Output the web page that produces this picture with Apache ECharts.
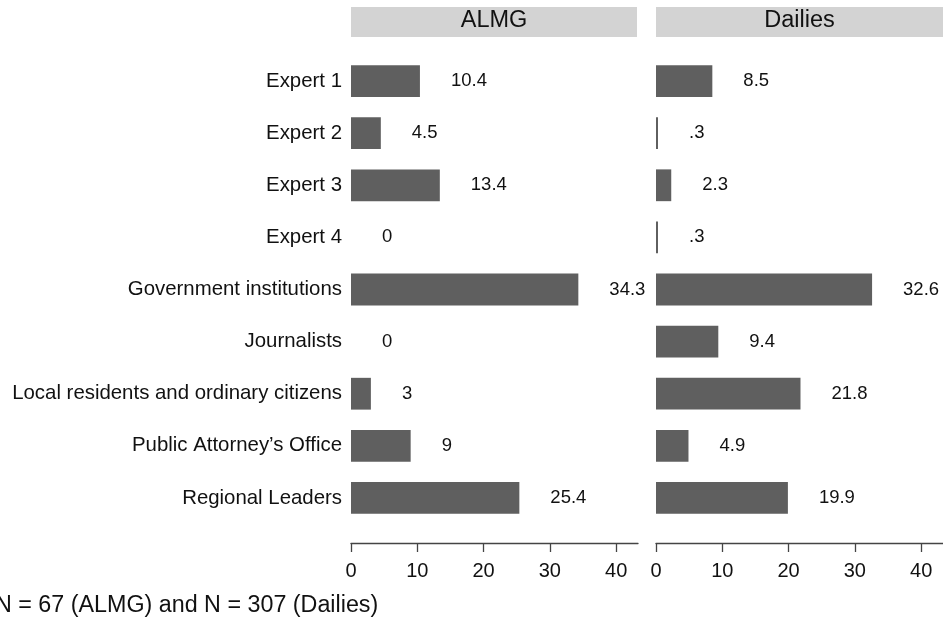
<!DOCTYPE html>
<html>
<head>
<meta charset="utf-8">
<script src="https://cdn.jsdelivr.net/npm/echarts@6/dist/echarts.min.js"></script>
<style>
html,body{margin:0;padding:0;background:#fff;}
#chart{width:943px;height:625px;}
</style>
</head>
<body>
<div id="chart"></div>
<script>
const categories = ["Expert 1","Expert 2","Expert 3","Expert 4","Government institutions","Journalists","Local residents and ordinary citizens","Public Attorney\u2019s Office","Regional Leaders"];
const almgValues = [10.4, 4.5, 13.4, 0, 34.3, 0, 3, 9, 25.4];
const dailiesValues = [8.5, 0.3, 2.3, 0.3, 32.6, 9.4, 21.8, 4.9, 19.9];
const tickValues = [0, 10, 20, 30, 40];
const panelTitles = ["ALMG", "Dailies"];
const noteText = "N = 67 (ALMG) and N = 307 (Dailies)";

const FONT = "'Liberation Sans', Arial, sans-serif";
const TEXT = '#111111';
const AXIS = '#444444';
const BAR = '#5f5f5f';
const HEAD = '#d3d3d3';

function fmt(v){
  if (v > 0 && v < 1) return String(v).replace(/^0/, '');
  return String(v);
}

const gridTop = 55, gridH = 469, gridW = 287;
const lefts = [351, 656];

function xAxisFor(i){
  return {
    type: 'value', gridIndex: i, min: 0, max: 43.3, interval: 10,
    offset: 19,
    splitLine: {show: false},
    axisLine: {show: true, onZero: false, lineStyle: {color: AXIS, width: 1.3}},
    axisTick: {show: true, length: 9, customValues: tickValues, lineStyle: {color: AXIS, width: 1.3}},
    axisLabel: {show: true, customValues: tickValues, margin: 18, fontSize: 20, color: TEXT, fontFamily: FONT,
      formatter: v => (tickValues.indexOf(v) >= 0 ? String(v) : '')}
  };
}
function yAxisFor(i){
  return {
    type: 'category', gridIndex: i, data: categories, inverse: true,
    axisLine: {show: false}, axisTick: {show: false}, splitLine: {show: false},
    axisLabel: {show: i === 0, margin: 9, fontSize: 20.4, color: TEXT, fontFamily: FONT}
  };
}
function seriesFor(i, vals){
  return {
    type: 'bar', xAxisIndex: i, yAxisIndex: i, data: vals, barWidth: '61%',
    itemStyle: {color: BAR},
    label: {show: true, position: 'right', distance: 31, fontSize: 18.5, color: TEXT, fontFamily: FONT,
      formatter: p => fmt(p.value)},
    silent: true, animation: false
  };
}

const graphics = [];
panelTitles.forEach((t, i) => {
  const x0 = lefts[i], w = (i === 0 ? 286 : 287);
  graphics.push({type: 'rect', left: x0, top: 7, shape: {width: w, height: 30}, style: {fill: HEAD}, silent: true});
  graphics.push({type: 'text', x: x0 + w / 2, y: 21, style: {text: t, fill: TEXT, font: '23.5px ' + FONT, textAlign: 'center', textVerticalAlign: 'middle'}, silent: true});
});
graphics.push({type: 'text', x: -5, y: 606, style: {text: noteText, fill: TEXT, font: '23.3px ' + FONT, textAlign: 'left', textVerticalAlign: 'middle'}, silent: true});

const chart = echarts.init(document.getElementById('chart'), null, {renderer: 'canvas'});
chart.setOption({
  backgroundColor: '#ffffff',
  animation: false,
  textStyle: {fontFamily: FONT},
  grid: lefts.map(l => ({left: l, top: gridTop, width: gridW, height: gridH, containLabel: false, outerBoundsMode: 'none'})),
  xAxis: [xAxisFor(0), xAxisFor(1)],
  yAxis: [yAxisFor(0), yAxisFor(1)],
  series: [seriesFor(0, almgValues), seriesFor(1, dailiesValues)],
  graphic: graphics
});
</script>
</body>
</html>
